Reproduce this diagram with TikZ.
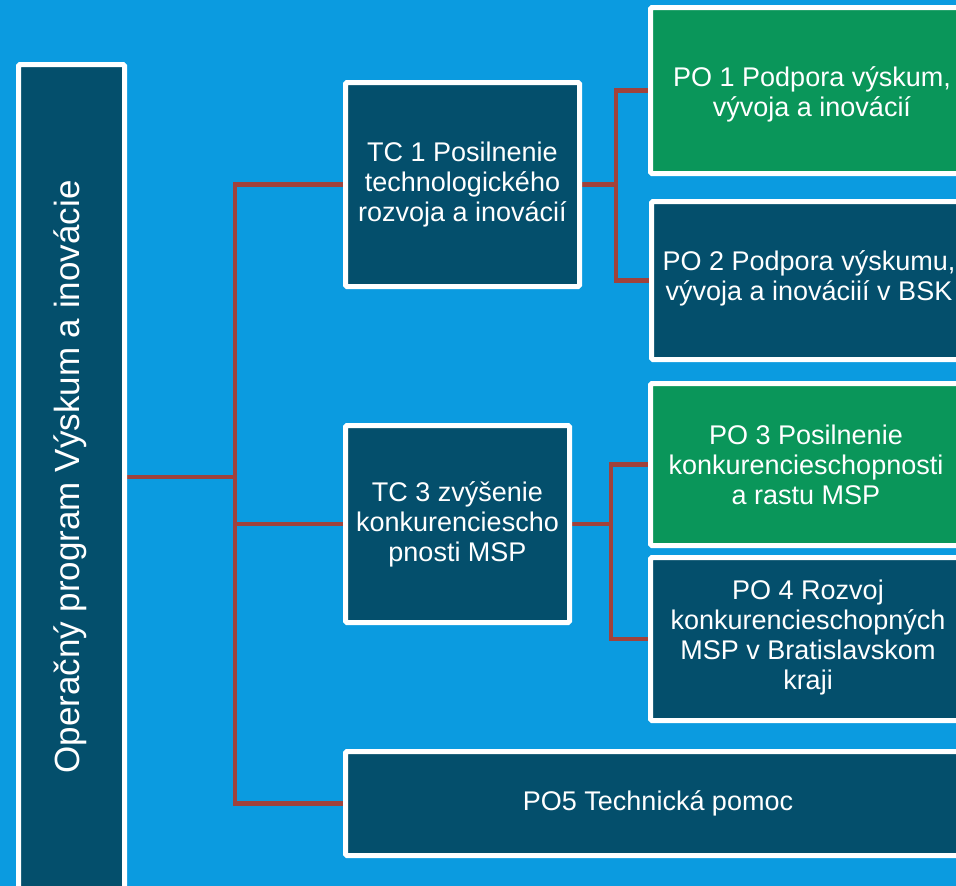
\documentclass[tikz,border=0pt]{standalone}
\usepackage{fontspec}
\setmainfont{Liberation Sans}
\usetikzlibrary{backgrounds}
\definecolor{bgblue}{RGB}{11,155,224}
\definecolor{darkbox}{RGB}{4,79,108}
\definecolor{greenbox}{RGB}{10,150,90}
\definecolor{connred}{RGB}{160,66,60}
\tikzset{
  box/.style={draw=white, line width=5pt, rounded corners=1.5pt, text=white,
    align=center, inner sep=0pt, outer sep=0pt,
    font=\fontsize{27}{30}\selectfont},
  darkfill/.style={fill=darkbox},
  greenfill/.style={fill=greenbox},
  conn/.style={draw=connred, line width=4.5pt},
  plabel/.style={text=white, align=center, inner sep=0pt, font=\fontsize{27}{30}\selectfont}
}
\begin{document}
\begin{tikzpicture}[x=1pt,y=-1pt]
\useasboundingbox (0,0) rectangle (956,886);
\begin{scope}
\clip (0,0) rectangle (956,886);
% main vertical box
\node[box, darkfill, minimum width=106pt, minimum height=825pt] (main) at (71.5,477) {};
\node[text=white, rotate=90, inner sep=0pt, font=\fontsize{35}{40}\selectfont] (mainlabel) at (70,477) {Operačný program Výskum a inovácie};
% TC boxes
\node[box, darkfill, minimum width=234pt, minimum height=204pt] (tc1) at (462.5,184.5) {TC 1 Posilnenie\\technologického\\rozvoja a inovácií};
\node[box, darkfill, minimum width=224pt, minimum height=197pt] (tc3) at (457.5,524) {TC 3 zvýšenie\\konkurenciescho\\pnosti MSP};
% PO5
\node[box, darkfill, minimum width=624pt, minimum height=104pt] (po5) at (657.5,803.5) {};
\node[plabel] (po5label) at (658,803) {PO5 Technická pomoc};
% PO boxes
\node[box, greenfill, minimum width=315pt, minimum height=166pt] (po1) at (808,90.5) {};
\node[plabel] (po1label) at (812,94) {PO 1 Podpora výskum,\\vývoja a inovácií};
\node[box, darkfill, minimum width=314pt, minimum height=158pt] (po2) at (808.5,280.5) {};
\node[plabel] (po2label) at (809,278) {PO 2 Podpora výskumu,\\vývoja a inováciií v BSK};
\node[box, greenfill, minimum width=315pt, minimum height=162pt] (po3) at (808,464.5) {};
\node[plabel] (po3label) at (806,465) {PO 3 Posilnenie\\konkurencieschopnosti\\a rastu MSP};
\node[box, darkfill, minimum width=315pt, minimum height=163pt] (po4) at (808,639) {};
\node[plabel] (po4label) at (808,638) {PO 4 Rozvoj\\konkurencieschopných\\MSP v Bratislavskom\\kraji};
% connectors
\coordinate (tA) at (235,184.5);
\coordinate (tB) at (235,803.5);
\coordinate (bA) at (616,90.5);
\coordinate (cA) at (611,464.5);
\begin{pgfonlayer}{background}
\fill[bgblue] (0,0) rectangle (956,886);
\draw[conn] (tc1.west) -- (tA) -- (tB) -- (po5.west);
\draw[conn] (main.east) -- (main.east -| tA);
\draw[conn] (tc3.west) -- (tc3.west -| tA);
\draw[conn] (tc1.east) -- (tc1.east -| bA);
\draw[conn] (po1.west) -- (bA) -- (bA |- po2.west) -- (po2.west);
\draw[conn] (tc3.east) -- (tc3.east -| cA);
\draw[conn] (po3.west) -- (cA) -- (cA |- po4.west) -- (po4.west);
\end{pgfonlayer}
\end{scope}
\end{tikzpicture}
\end{document}
